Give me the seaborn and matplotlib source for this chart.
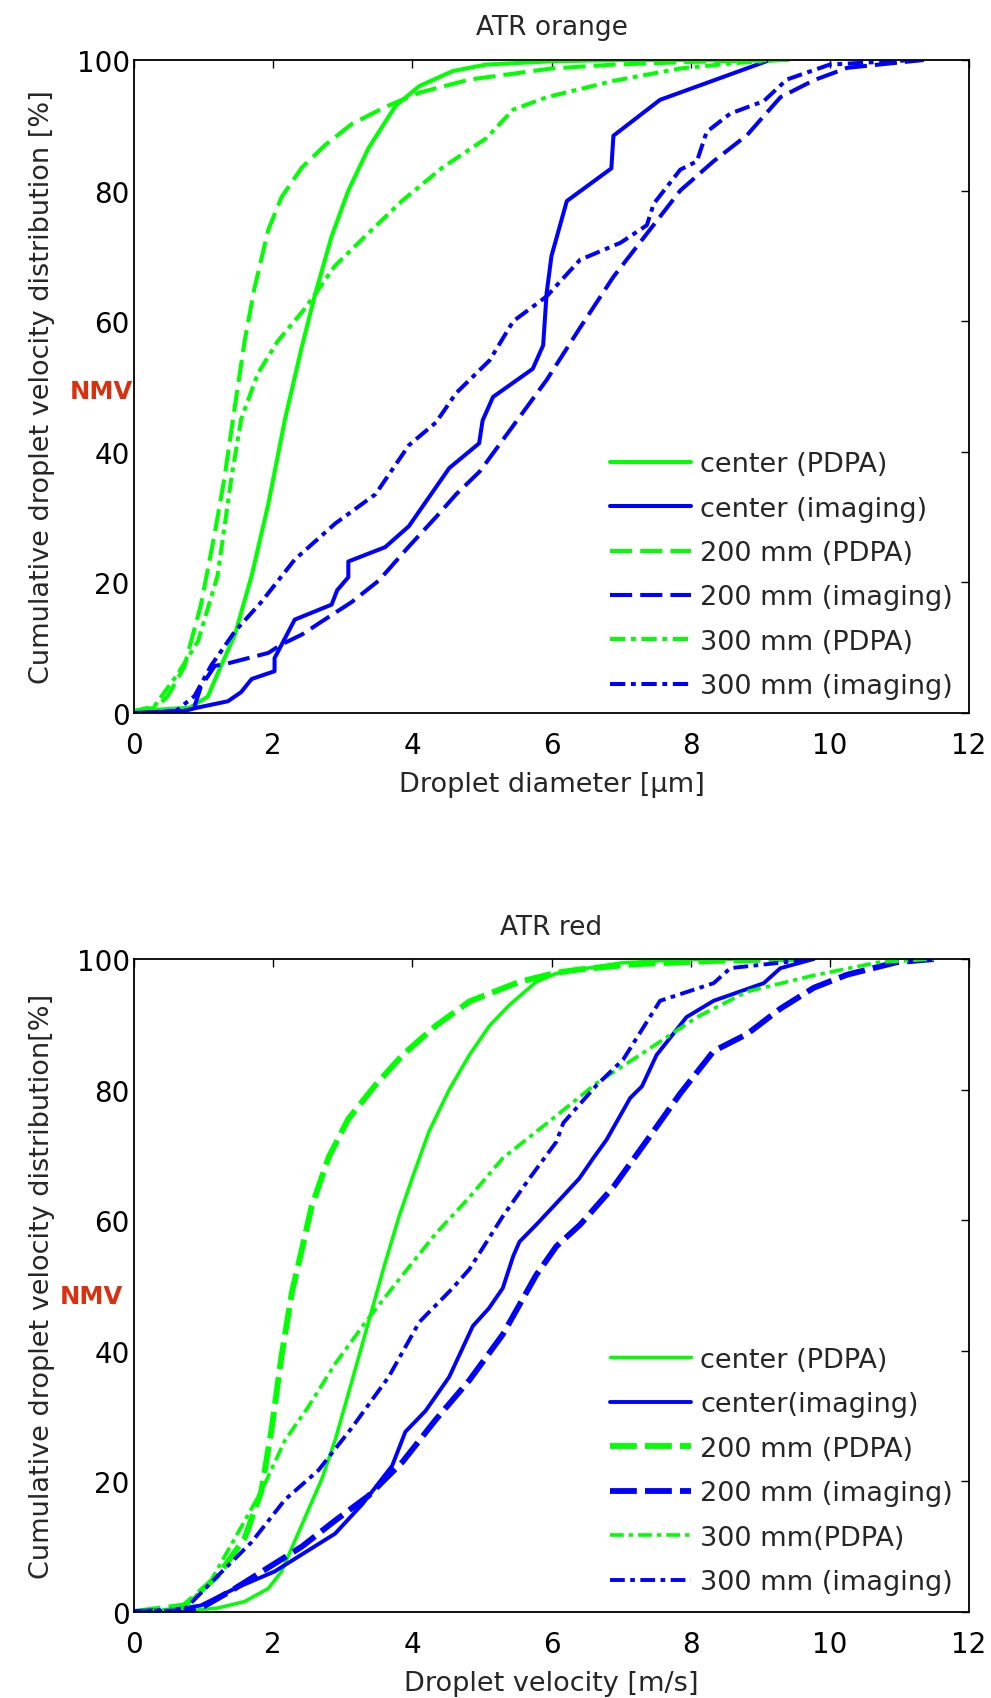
import matplotlib
matplotlib.use("Agg")
import matplotlib.pyplot as plt
import seaborn as sns

# ---------------- data: ATR orange (droplet diameter, µm) ----------------
o_center_pdpa_x = [0, 0.8, 1.06, 1.2, 1.45, 1.69, 1.93, 2.17, 2.41, 2.6, 2.84, 3.08, 3.37, 3.76, 4.1, 4.58, 5.06, 6.0, 7.0, 9.4]
o_center_pdpa_y = [0.3, 0.8, 2.5, 6, 12, 21, 32, 45, 56, 64, 73, 80, 86.5, 93, 96, 98.3, 99.3, 99.8, 100, 100]

o_center_img_x = [0, 0.72, 0.9, 1.35, 1.54, 1.69, 2.02, 2.02, 2.31, 2.84, 2.92, 3.08, 3.08, 3.61, 3.95, 4.53, 4.96, 5.01, 5.16, 5.73, 5.88, 5.93, 6.0, 6.22, 6.86, 6.89, 7.56, 9.14]
o_center_img_y = [0, 0.3, 0.8, 1.8, 3.2, 5.2, 6.4, 8.4, 14.3, 16.6, 18.8, 20.8, 23.2, 25.4, 28.6, 37.5, 41.3, 44.8, 48.4, 52.7, 56.3, 64.3, 70, 78.4, 83.4, 88.4, 93.9, 100]

o_200_pdpa_x = [0, 0.3, 0.48, 0.72, 0.96, 1.16, 1.30, 1.45, 1.59, 1.73, 1.93, 2.12, 2.41, 2.75, 3.13, 3.61, 4.1, 4.82, 6.0, 6.9, 8.0, 9.3]
o_200_pdpa_y = [0.3, 0.8, 2.5, 7, 16.5, 27.5, 36, 47, 57, 65, 74, 79, 83.5, 87, 90.2, 92.8, 95, 97, 98.7, 99.3, 99.7, 100]

o_200_img_x = [0, 0.72, 0.87, 0.96, 1.16, 1.35, 1.93, 2.12, 2.41, 2.84, 3.13, 3.52, 3.95, 4.34, 4.63, 4.97, 5.45, 5.93, 6.41, 6.89, 7.37, 7.85, 8.33, 8.81, 9.29, 9.77, 10.25, 11.35]
o_200_img_y = [0, 0.3, 1, 4, 7.2, 7.6, 9.2, 10.5, 12, 15, 17, 20.3, 25.5, 30, 33.5, 37, 44, 51, 59, 66.8, 73.4, 80, 84.5, 88.5, 94.3, 96.9, 98.8, 100]

o_300_pdpa_x = [0, 0.29, 0.63, 0.92, 1.2, 1.4, 1.54, 1.78, 2.07, 2.46, 2.89, 3.37, 3.86, 4.43, 5.06, 5.45, 5.93, 6.89, 7.85, 8.6, 9.3]
o_300_pdpa_y = [0.3, 1, 6, 11, 21, 36, 45, 52, 57, 62, 68.5, 73.5, 78.5, 83.5, 88, 92.4, 94.3, 96.8, 98.7, 99.5, 100]

o_300_img_x = [0, 0.6, 0.87, 1.11, 1.45, 1.83, 2.31, 2.89, 3.47, 3.95, 4.34, 4.63, 5.11, 5.45, 5.93, 6.41, 6.99, 7.37, 7.47, 7.85, 8.09, 8.23, 8.57, 9.05, 9.38, 10.0, 11.2]
o_300_img_y = [0, 0.3, 2.6, 7.3, 12.5, 17, 23.5, 29, 33.5, 41, 44.5, 49, 54, 60, 63.8, 69.4, 72, 74.7, 78, 83.2, 84.5, 89, 91.8, 93.7, 97, 99.3, 100]

# ---------------- data: ATR red (droplet velocity, m/s) ----------------
r_center_pdpa_x = [0, 0.8, 1.2, 1.59, 1.93, 2.12, 2.41, 2.7, 2.89, 3.13, 3.37, 3.61, 3.81, 4.0, 4.24, 4.53, 4.82, 5.11, 5.4, 5.78, 6.07, 6.4, 7.0, 7.85, 9.0]
r_center_pdpa_y = [0, 0.2, 0.6, 1.6, 3.6, 6.2, 13.3, 20.4, 26.3, 35.3, 44.4, 53.5, 60.6, 66.5, 73.6, 80, 85.3, 89.8, 93, 96.5, 97.8, 98.4, 99.4, 99.9, 100]

r_center_img_x = [0, 0.5, 0.96, 1.45, 2.02, 2.41, 2.89, 3.28, 3.71, 3.9, 4.19, 4.53, 4.87, 5.1, 5.3, 5.45, 5.54, 5.78, 6.07, 6.4, 6.6, 6.79, 7.13, 7.3, 7.51, 7.94, 8.33, 9.05, 9.29, 9.77]
r_center_img_y = [0, 0.2, 1, 3.6, 6.2, 8.8, 12, 16.5, 22.4, 27.6, 30.8, 36, 43.8, 46.5, 49.6, 54.5, 56.7, 59.3, 62.6, 66.4, 69.5, 72.3, 78.7, 80.5, 85.3, 91.1, 93.6, 96.3, 98.6, 100]

r_200_pdpa_x = [0, 0.72, 1.2, 1.59, 1.83, 1.98, 2.12, 2.27, 2.41, 2.55, 2.8, 3.08, 3.47, 3.86, 4.34, 4.82, 5.54, 6.07, 6.4, 7.2, 8.33, 9.5]
r_200_pdpa_y = [0, 1, 5.5, 11.3, 18.5, 28.2, 39.2, 49, 55.4, 62, 69.7, 75.5, 80.7, 85.3, 89.8, 93.5, 96.5, 97.9, 98.4, 99.2, 99.7, 100]

r_200_img_x = [0, 0.5, 0.96, 1.45, 1.93, 2.41, 2.89, 3.37, 3.86, 4.34, 4.82, 5.3, 5.78, 6.07, 6.41, 6.89, 7.37, 7.85, 8.33, 8.81, 9.29, 9.77, 10.25, 10.96, 11.5]
r_200_img_y = [0, 0.2, 0.6, 3.6, 6.8, 10, 14, 17.8, 23, 29.5, 35.5, 42.5, 51.6, 56, 59.3, 65.1, 72.2, 79.4, 85.9, 88.5, 92.4, 95.6, 97.6, 99.5, 100]

r_300_pdpa_x = [0, 0.72, 1.11, 1.45, 1.83, 2.17, 2.51, 2.89, 3.37, 3.86, 4.34, 4.82, 5.3, 6.07, 6.65, 7.37, 8.09, 8.81, 9.77, 10.7, 11.5]
r_300_pdpa_y = [0, 0.6, 4.9, 11.3, 18.5, 26.3, 31.5, 38, 45, 51.6, 58, 63.5, 69.5, 76, 81, 86, 91.1, 95, 97.5, 99.5, 100]

r_300_img_x = [0, 0.72, 1.2, 1.69, 2.17, 2.65, 3.13, 3.66, 4.1, 4.58, 4.82, 5.3, 5.69, 6.07, 6.17, 6.65, 7.03, 7.56, 8.33, 8.57, 9.77]
r_300_img_y = [0, 0.3, 5.5, 10.7, 17.2, 21.7, 28.2, 36, 44.4, 49.6, 52.5, 60.6, 66.5, 72, 74.9, 80.7, 84.6, 93.6, 96.3, 98.6, 100]

orange_labels = ["center (PDPA)", "center (imaging)", "200 mm (PDPA)",
                 "200 mm (imaging)", "300 mm (PDPA)", "300 mm (imaging)"]
red_labels = ["center (PDPA)", "center(imaging)", "200 mm (PDPA)",
              "200 mm (imaging)", "300 mm(PDPA)", "300 mm (imaging)"]

x_ticks = [0, 2, 4, 6, 8, 10, 12]
y_ticks = [0, 20, 40, 60, 80, 100]

# ---------------- style ----------------
sns.set_style("white")
plt.rcParams["font.family"] = ["DejaVu Sans"]

GREEN = "#00FF00"
BLUE = "#0000FF"
NMV_COLOR = "#D9310F"

fig = plt.figure(figsize=(9.91, 16.99), dpi=100)
W, H = 991.0, 1699.0
ax1 = fig.add_axes([134 / W, 1 - 714 / H, 835 / W, 653 / H])
ax2 = fig.add_axes([134 / W, 1 - 1613 / H, 835 / W, 653 / H])

orange_series = [
    (o_center_pdpa_x, o_center_pdpa_y, GREEN, "-", 2.9),
    (o_center_img_x, o_center_img_y, BLUE, "-", 2.9),
    (o_200_pdpa_x, o_200_pdpa_y, GREEN, (0, (5.5, 2.0)), 2.9),
    (o_200_img_x, o_200_img_y, BLUE, (0, (5.5, 2.0)), 2.9),
    (o_300_pdpa_x, o_300_pdpa_y, GREEN, (0, (3.8, 1.4, 1.2, 1.4)), 2.9),
    (o_300_img_x, o_300_img_y, BLUE, (0, (3.8, 1.4, 1.2, 1.4)), 2.9),
]
red_series = [
    (r_center_pdpa_x, r_center_pdpa_y, GREEN, "-", 2.5),
    (r_center_img_x, r_center_img_y, BLUE, "-", 2.8),
    (r_200_pdpa_x, r_200_pdpa_y, GREEN, (0, (4.6, 1.4)), 4.2),
    (r_200_img_x, r_200_img_y, BLUE, (0, (4.6, 1.4)), 4.2),
    (r_300_pdpa_x, r_300_pdpa_y, GREEN, (0, (3.8, 1.4, 1.2, 1.4)), 2.6),
    (r_300_img_x, r_300_img_y, BLUE, (0, (3.8, 1.4, 1.2, 1.4)), 2.8),
]


def draw(ax, series, labels, title, xlabel, ylabel, nmv_pos, leg_y, tpad):
    for (xs, ys, c, ls, lw), lab in zip(series, labels):
        sns.lineplot(x=xs, y=ys, ax=ax, color=c, linestyle=ls, linewidth=lw,
                     label=lab, sort=False, estimator=None)
    ax.set_xlim(0, 12)
    ax.set_ylim(0, 100)
    ax.set_xticks(x_ticks)
    ax.set_yticks(y_ticks)
    ax.set_xticklabels([str(t) for t in x_ticks])
    ax.set_yticklabels([str(t) for t in y_ticks])
    ax.tick_params(axis="both", direction="in", top=True, right=True,
                   length=6, width=1.0, labelsize=20, colors="black")
    ax.tick_params(axis="x", pad=13)
    ax.tick_params(axis="y", pad=3)
    for s in ax.spines.values():
        s.set_visible(True)
        s.set_color("black")
        s.set_linewidth(1.3)
    ax.set_title(title, fontsize=19, pad=tpad)
    ax.set_xlabel(xlabel, fontsize=19.5)
    ax.set_ylabel(ylabel, fontsize=19.5)
    ax.xaxis.set_label_coords(0.5, -0.089)
    ax.yaxis.set_label_coords(-0.095, 0.5)
    ax.text(nmv_pos[0], nmv_pos[1], "NMV", transform=ax.transAxes,
            ha="right", va="center", fontsize=17.5, fontweight="bold",
            color=NMV_COLOR)
    ax.legend(loc="lower right", bbox_to_anchor=(0.981, leg_y), frameon=False,
              fontsize=19.5, handlelength=3.0, handletextpad=0.33,
              labelspacing=0.68, borderpad=0, borderaxespad=0)


draw(ax1, orange_series, orange_labels, "ATR orange", "Droplet diameter [μm]",
     "Cumulative droplet velocity distribution [%]", (-0.001, 0.493), 0.021, 19)
draw(ax2, red_series, red_labels, "ATR red", "Droplet velocity [m/s]",
     "Cumulative droplet velocity distribution[%]", (-0.013, 0.484), 0.026, 18)

fig.savefig("out.png", dpi=100)
